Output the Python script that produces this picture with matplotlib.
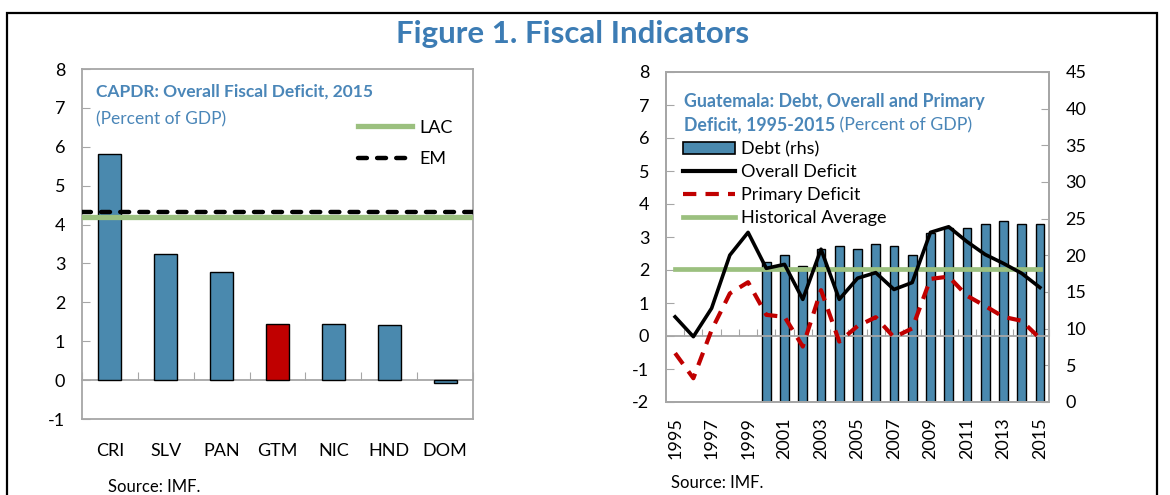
import numpy as np
import matplotlib.pyplot as plt
from matplotlib.patches import Rectangle, Patch
from matplotlib.lines import Line2D

plt.rcParams['font.family'] = ['Lato', 'DejaVu Sans']
plt.rcParams['axes.unicode_minus'] = False

# left panel data
countries = ['CRI', 'SLV', 'PAN', 'GTM', 'NIC', 'HND', 'DOM']
deficit_2015 = [5.82, 3.25, 2.78, 1.45, 1.45, 1.41, -0.08]
lac_avg = 4.19
em_avg = 4.32

# right panel data
years = list(range(1995, 2016))
debt = [np.nan, np.nan, np.nan, np.nan, np.nan,
        19.1, 20.1, 18.5, 20.9, 21.3, 20.9, 21.6, 21.3, 20.1,
        23.0, 23.7, 23.7, 24.3, 24.7, 24.3, 24.3]
overall = [0.58, -0.02, 0.84, 2.45, 3.14, 2.05, 2.17, 1.11, 2.63, 1.11, 1.75,
           1.92, 1.41, 1.62, 3.14, 3.31, 2.86, 2.47, 2.20, 1.90, 1.47]
primary = [-0.52, -1.28, 0.18, 1.29, 1.63, 0.64, 0.58, -0.32, 1.39, -0.17, 0.30,
           0.57, -0.04, 0.23, 1.73, 1.80, 1.22, 0.91, 0.58, 0.46, -0.07]
hist_avg = 2.03

blue = '#4a89ae'
red = '#c00000'
green = '#9bc07f'
grey = '#a6a6a6'
title_blue = '#3c7cb4'
sub_blue = '#4a86b8'

W, H = 1170, 495
fig = plt.figure(figsize=(W / 100, H / 100), dpi=100)

def fx(px):
    return px / W

def fy(py):
    return 1 - py / H

# outer border
fig.add_artist(Rectangle((fx(7), -0.1), fx(1157 - 7), fy(13) + 0.1,
                         transform=fig.transFigure, fill=False,
                         ec='black', lw=1.6))
fig.text(fx(573), fy(34), 'Figure 1. Fiscal Indicators', ha='center', va='center',
         fontsize=22.5, fontweight='bold', color=title_blue)

def style_frame(ax):
    for s in ax.spines.values():
        s.set_color(grey)
        s.set_linewidth(1.3)

em_dash = (0, (2.0, 2.3))
pd_dash = (0, (3.2, 2.2))

# ---- left panel
ax1 = fig.add_axes([fx(82), 1 - 419 / H, fx(391), 350 / H])
x = np.arange(len(countries))
colors = [red if c == 'GTM' else blue for c in countries]
ax1.bar(x, deficit_2015, width=0.41, color=colors, edgecolor='black', lw=1, zorder=3)
ax1.axhline(lac_avg, color=green, lw=3.8, zorder=4)
ax1.axhline(em_avg, color='black', lw=3.2, ls=em_dash, dash_capstyle='round', zorder=5)
ax1.set_xlim(-0.5, len(countries) - 0.5)
ax1.set_ylim(-1, 8)
ax1.set_yticks(range(-1, 9))
ax1.set_xticks(x)
ax1.set_xticklabels(countries)
ax1.tick_params(axis='x', length=0, pad=17, labelsize=13)
ax1.tick_params(axis='y', direction='in', length=6, color=grey, pad=12, labelsize=13)
style_frame(ax1)
sec1 = ax1.secondary_xaxis(1 / 9)
sec1.set_xticks(np.arange(len(countries) + 1) - 0.5)
sec1.tick_params(direction='in', length=6, color=grey, labelbottom=False)
sec1.spines['bottom'].set_color(grey)
sec1.spines['bottom'].set_linewidth(1.3)
ax1.legend([Line2D([], [], color=green, lw=3.8),
            Line2D([], [], color='black', lw=3.2, ls=em_dash, dash_capstyle='round')],
           ['LAC', 'EM'], loc='upper left', bbox_to_anchor=(0.705, 0.855),
           frameon=False, fontsize=13, handlelength=3.0, handletextpad=0.4,
           labelspacing=0.85, borderpad=0, borderaxespad=0)
fig.text(fx(96), fy(92), 'CAPDR: Overall Fiscal Deficit, 2015', ha='left', va='center',
         fontsize=12.5, fontweight='bold', color=sub_blue)
fig.text(fx(96), fy(119), '(Percent of GDP)', ha='left', va='center',
         fontsize=12.5, color=sub_blue)
fig.text(fx(108), fy(487), 'Source: IMF.', ha='left', va='center', fontsize=12)

# ---- right panel
ax = fig.add_axes([fx(666), 1 - 402 / H, fx(383), 330 / H])
ax2 = ax.twinx()
ax2.bar(years, debt, width=0.48, color=blue, edgecolor='black', lw=1, zorder=2)
ax2.set_ylim(0, 45)
ax2.set_yticks(range(0, 46, 5))
ax2.tick_params(axis='y', direction='in', length=6, color=grey, pad=12, labelsize=13)
ax.set_zorder(ax2.get_zorder() + 1)
ax.patch.set_visible(False)
ax.plot(years, [hist_avg] * len(years), color=green, lw=3.4, zorder=3)
ax.plot(years, overall, color='black', lw=2.6, zorder=4)
ax.plot(years, primary, color=red, lw=3.0, ls=pd_dash, zorder=5)
ax.set_xlim(years[0] - 0.5, years[-1] + 0.5)
ax.set_ylim(-2, 8)
ax.set_yticks(range(-2, 9))
ax.set_xticks(years[::2])
ax.set_xticklabels([str(y) for y in years[::2]], rotation=90)
ax.tick_params(axis='x', length=0, pad=11, labelsize=13)
ax.tick_params(axis='y', direction='in', length=6, color=grey, pad=12, labelsize=13)
style_frame(ax)
style_frame(ax2)
sec2 = ax.secondary_xaxis(0.2)
sec2.set_xticks(np.arange(years[0], years[-1] + 2) - 0.5)
sec2.tick_params(direction='in', length=5, color=grey, labelbottom=False)
sec2.spines['bottom'].set_color(grey)
sec2.spines['bottom'].set_linewidth(1.3)
ax.legend([Patch(facecolor=blue, edgecolor='black', lw=1.2),
           Line2D([], [], color='black', lw=3.0),
           Line2D([], [], color=red, lw=3.0, ls=pd_dash),
           Line2D([], [], color=green, lw=3.4)],
          ['Debt (rhs)', 'Overall Deficit', 'Primary Deficit', 'Historical Average'],
          loc='upper left', bbox_to_anchor=(0.044, 0.79), frameon=False,
          fontsize=13, handlelength=2.9, handletextpad=0.3, labelspacing=0.38,
          borderpad=0, borderaxespad=0)
fig.text(fx(684), fy(101), 'Guatemala: Debt, Overall and Primary', ha='left',
         va='center', fontsize=12.8, fontweight='bold', color=sub_blue)
t2 = fig.text(fx(684), fy(125), 'Deficit, 1995-2015', ha='left', va='center',
              fontsize=12.8, fontweight='bold', color=sub_blue)
ax.annotate(' (Percent of GDP)', xy=(1, 0.5), xycoords=t2, ha='left', va='center',
            fontsize=12.8, color=sub_blue)
fig.text(fx(671), fy(483), 'Source: IMF.', ha='left', va='center', fontsize=12)

fig.savefig('out.png', dpi=100)
